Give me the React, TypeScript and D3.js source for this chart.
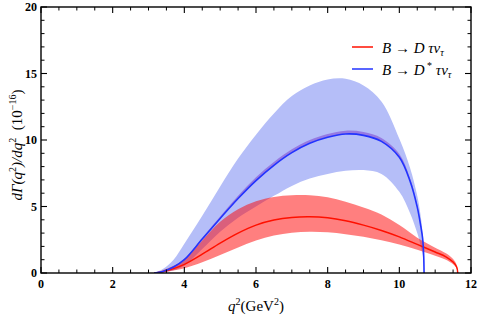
import React from "react";
import * as d3 from "d3";

// ---- data ----
const qD = [3.16, 3.4, 3.7, 4.0, 4.5, 5.0, 5.5, 6.0, 6.5, 7.0, 7.5, 8.0, 8.5, 9.0, 9.5, 10.0, 10.5, 11.0, 11.3, 11.5, 11.6, 11.63];
const dCentral = [0, 0.1, 0.33, 0.65, 1.42, 2.25, 3.0, 3.6, 3.98, 4.18, 4.23, 4.15, 3.93, 3.6, 3.2, 2.72, 2.15, 1.58, 1.22, 0.82, 0.45, 0];
const dUpper = [0, 0.2, 0.55, 1.0, 2.45, 3.85, 4.8, 5.4, 5.72, 5.85, 5.85, 5.7, 5.35, 4.92, 4.4, 3.6, 2.65, 1.9, 1.48, 1.05, 0.6, 0];
const dLower = [0, 0.05, 0.18, 0.35, 0.8, 1.35, 1.92, 2.45, 2.82, 3.03, 3.1, 3.06, 2.92, 2.72, 2.46, 2.15, 1.74, 1.3, 1.0, 0.66, 0.35, 0];

const qDs = [3.16, 3.4, 3.7, 4.0, 4.5, 5.0, 5.5, 6.0, 6.5, 7.0, 7.5, 8.0, 8.5, 9.0, 9.5, 10.0, 10.3, 10.5, 10.6, 10.65, 10.68, 10.69];
const dsCentral = [0, 0.12, 0.45, 1.0, 2.55, 4.1, 5.6, 6.95, 8.1, 9.05, 9.75, 10.2, 10.45, 10.35, 9.9, 8.7, 6.9, 4.95, 3.5, 2.6, 1.3, 0];
const dsNarrowUpper = [0, 0.15, 0.5, 1.07, 2.65, 4.25, 5.8, 7.2, 8.35, 9.3, 10.0, 10.45, 10.7, 10.6, 10.15, 8.95, 7.12, 5.12, 3.62, 2.68, 1.34, 0];
const dsUpper = [0, 0.3, 1.0, 2.2, 4.3, 6.5, 8.6, 10.4, 12.0, 13.3, 14.1, 14.55, 14.6, 14.1, 12.9, 10.1, 7.9, 5.8, 4.2, 3.0, 1.6, 0];
const dsLower = [0, 0.05, 0.2, 0.55, 1.8, 3.1, 4.15, 5.0, 5.8, 6.55, 7.1, 7.45, 7.68, 7.74, 7.45, 6.1, 4.5, 3.0, 2.0, 1.4, 0.7, 0];

const xMajor = [0, 2, 4, 6, 8, 10, 12];
const yMajor = [0, 5, 10, 15, 20];

const W = 478, H = 316;
const x = d3.scaleLinear().domain([0, 12]).range([41, 471]);
const y = d3.scaleLinear().domain([0, 20]).range([273, 7]);
const curve = d3.curveCatmullRom.alpha(0.5);

function band(qs: number[], lo: number[], hi: number[]) {
  const pts = qs.map((q, i) => ({ q, lo: lo[i], hi: hi[i] }));
  return d3.area<any>().x(d => x(d.q)).y0(d => y(d.lo)).y1(d => y(d.hi)).curve(curve)(pts) || "";
}
function line(qs: number[], v: number[]) {
  const pts = qs.map((q, i) => [q, v[i]] as [number, number]);
  return d3.line<[number, number]>().x(d => x(d[0])).y(d => y(d[1])).curve(curve)(pts) || "";
}

export default function App() {
  const xMinor = d3.range(0, 12.001, 0.5).filter(v => !xMajor.includes(v));
  const yMinor = d3.range(0, 20.001, 1).filter(v => !yMajor.includes(v));
  const serif = "'Liberation Serif', 'DejaVu Serif', serif";
  const x0 = x(0), x1 = x(12), y0 = y(0), y1 = y(20);
  return (
    <svg width={W} height={H} style={{ position: "absolute", left: 0, top: 0, background: "#fff" }}>
      <defs>
        <clipPath id="plot"><rect x={x0} y={y1} width={x1 - x0} height={y0 - y1} /></clipPath>
      </defs>
      <g clipPath="url(#plot)">
        <path d={band(qDs, dsLower, dsUpper)} fill="rgb(181,190,248)" />
        <path d={band(qD, dLower, dUpper)} fill="rgba(255,0,0,0.5)" />
        <path d={band(qDs, dsCentral, dsNarrowUpper)} fill="rgb(150,122,226)" />
        <path d={line(qD, dCentral)} fill="none" stroke="#ff1000" strokeWidth={1.5} />
        <path d={line(qDs, dsCentral)} fill="none" stroke="#2233ff" strokeWidth={1.6} />
      </g>
      {/* frame */}
      <rect x={x0} y={y1} width={x1 - x0} height={y0 - y1} fill="none" stroke="#000" strokeWidth={1.4} />
      {/* x ticks */}
      {xMajor.map(v => (
        <g key={"xM" + v}>
          <line x1={x(v)} x2={x(v)} y1={y0} y2={y0 - 6} stroke="#000" strokeWidth={1.1} />
          <line x1={x(v)} x2={x(v)} y1={y1} y2={y1 + 6} stroke="#000" strokeWidth={1.1} />
          <text x={x(v)} y={288} textAnchor="middle" fontFamily={serif} fontWeight="bold" fontSize={12}>{v}</text>
        </g>
      ))}
      {xMinor.map(v => (
        <g key={"xm" + v}>
          <line x1={x(v)} x2={x(v)} y1={y0} y2={y0 - 3.5} stroke="#000" strokeWidth={1} />
          <line x1={x(v)} x2={x(v)} y1={y1} y2={y1 + 3.5} stroke="#000" strokeWidth={1} />
        </g>
      ))}
      {yMajor.map(v => (
        <g key={"yM" + v}>
          <line x1={x0} x2={x0 + 6} y1={y(v)} y2={y(v)} stroke="#000" strokeWidth={1.1} />
          <line x1={x1} x2={x1 - 6} y1={y(v)} y2={y(v)} stroke="#000" strokeWidth={1.1} />
          <text x={37} y={y(v) + 4} textAnchor="end" fontFamily={serif} fontWeight="bold" fontSize={12}>{v}</text>
        </g>
      ))}
      {yMinor.map(v => (
        <g key={"ym" + v}>
          <line x1={x0} x2={x0 + 3.5} y1={y(v)} y2={y(v)} stroke="#000" strokeWidth={1} />
          <line x1={x1} x2={x1 - 3.5} y1={y(v)} y2={y(v)} stroke="#000" strokeWidth={1} />
        </g>
      ))}
      {/* axis titles */}
      <text x={256} y={311} textAnchor="middle" fontFamily={serif} fontSize={15}>
        <tspan fontStyle="italic">q</tspan><tspan fontSize={10} dy={-6}>2</tspan><tspan dy={6}>(GeV</tspan><tspan fontSize={10} dy={-6}>2</tspan><tspan dy={6}>)</tspan>
      </text>
      <text transform="translate(22,145) rotate(-90)" textAnchor="middle" fontFamily={serif} fontSize={15}>
        <tspan fontStyle="italic">dΓ(q</tspan><tspan fontSize={10} dy={-6}>2</tspan><tspan fontStyle="italic" dy={6}>)/dq</tspan><tspan fontSize={10} dy={-6}>2</tspan><tspan dy={6} xmlSpace="preserve">  (10</tspan><tspan fontSize={10} dy={-6}>−16</tspan><tspan dy={6}>)</tspan>
      </text>
      {/* legend */}
      <line x1={352} x2={373} y1={47} y2={47} stroke="#ff1000" strokeWidth={1.5} />
      <text x={382} y={53} fontFamily={serif} fontSize={15}>
        <tspan fontStyle="italic">B</tspan><tspan> → </tspan><tspan fontStyle="italic">D τν</tspan><tspan fontStyle="italic" fontSize={10} dy={3}>τ</tspan>
      </text>
      <line x1={352} x2={373} y1={69} y2={69} stroke="#2233ff" strokeWidth={1.5} />
      <text x={382} y={75} fontFamily={serif} fontSize={15}>
        <tspan fontStyle="italic">B</tspan><tspan> → </tspan><tspan fontStyle="italic">D</tspan><tspan fontSize={10} dy={-6}> *</tspan><tspan fontStyle="italic" dy={6}> τν</tspan><tspan fontStyle="italic" fontSize={10} dy={3}>τ</tspan>
      </text>
    </svg>
  );
}
